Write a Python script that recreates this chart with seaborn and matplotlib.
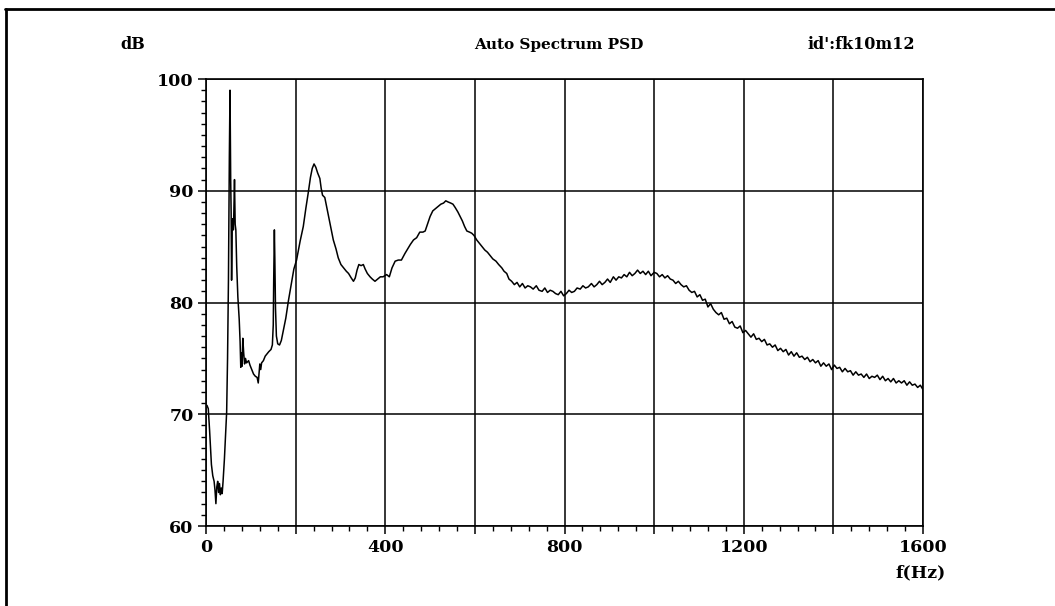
import matplotlib
matplotlib.use('Agg')
import matplotlib.pyplot as plt
from matplotlib.ticker import MultipleLocator, FuncFormatter
from matplotlib.lines import Line2D
import seaborn as sns

# frequency (Hz) and auto spectrum level (dB)
freq = [2, 5, 8, 12, 15, 18, 20, 22, 24, 26, 28, 30, 32, 34, 36, 38, 41, 44, 46, 48,
        50, 52, 53.5, 55, 56, 57, 58.5, 60, 61, 62, 63.5, 65, 66.5, 68.5, 71, 74, 76, 77.5, 79, 80.5,
        82, 84, 86, 88, 90.5, 95, 98, 102, 106, 110, 114, 116.5, 118, 120, 122, 124, 128, 132, 136, 140,
        145, 148, 150, 151, 152.5, 153.5, 155, 157, 160, 164, 168, 172, 178, 184, 190, 196, 202, 210, 217, 223,
        228, 233, 237, 241, 245, 249, 254, 257, 260, 265, 269, 274, 279, 284, 290, 295, 301, 307, 313, 318,
        324, 329, 333, 337, 341, 346, 351, 355, 360, 366, 371, 377, 383, 389, 395, 403, 409, 415, 422, 429,
        436, 444, 450, 456, 463, 470, 477, 484, 489, 494, 500, 506, 512, 518, 524, 530, 535, 540, 546, 551,
        556, 562, 567, 572, 577, 582, 588, 593, 598, 604, 610, 616, 622, 628, 634, 640, 647, 653, 660, 665,
        671, 676, 682, 688, 694, 700, 706, 712, 718, 724, 730, 737, 743, 750, 756, 762, 768, 774, 780, 786,
        792, 798, 804, 810, 816, 822, 828, 835, 841, 847, 853, 860, 866, 872, 878, 884, 890, 896, 902, 909,
        915, 921, 927, 933, 939, 945, 951, 957, 963, 969, 975, 981, 987, 993, 1000, 1006, 1012, 1018, 1024, 1030,
        1036, 1042, 1048, 1054, 1060, 1066, 1072, 1078, 1084, 1090, 1096, 1102, 1108, 1114, 1120, 1126, 1132, 1138, 1144, 1150,
        1156, 1162, 1168, 1174, 1180, 1186, 1192, 1198, 1204, 1210, 1216, 1222, 1228, 1234, 1240, 1246, 1252, 1258, 1264, 1270,
        1276, 1282, 1288, 1294, 1300, 1306, 1312, 1318, 1324, 1330, 1336, 1342, 1348, 1354, 1360, 1366, 1372, 1378, 1384, 1390,
        1396, 1402, 1408, 1414, 1420, 1426, 1432, 1438, 1444, 1450, 1456, 1462, 1468, 1474, 1480, 1486, 1492, 1498, 1504, 1510,
        1516, 1522, 1528, 1534, 1540, 1546, 1552, 1558, 1564, 1570, 1576, 1582, 1588, 1594, 1600]
db = [70.8, 70.5, 68.5, 65.5, 64.5, 64.0, 63.2, 62.0, 63.5, 64.0, 63.0, 63.8, 62.8, 63.4, 62.9, 64.0, 66.0, 68.5, 70.2, 75,
      82, 93, 99.0, 91, 88, 82, 87, 87.5, 86.5, 88, 91.0, 87, 86.5, 83.2, 80.5, 78.5, 76.5, 74.2, 75.5, 74.3,
      76.8, 75.5, 74.5, 75, 74.6, 74.8, 74.4, 74.0, 73.6, 73.4, 73.3, 72.8, 73.5, 74.5, 74.0, 74.6, 74.8, 75.2, 75.4, 75.6,
      75.8, 76.2, 78, 82, 86.5, 84, 79.5, 77, 76.3, 76.2, 76.6, 77.4, 78.6, 80.2, 81.6, 83, 83.8, 85.5, 86.8, 88.5,
      89.8, 91.2, 92.0, 92.4, 92.1, 91.6, 91.1, 90.2, 89.6, 89.4, 88.6, 87.6, 86.6, 85.6, 84.8, 84.0, 83.4, 83.1, 82.8, 82.6,
      82.2, 81.9, 82.2, 82.9, 83.4, 83.3, 83.4, 83.0, 82.6, 82.3, 82.1, 81.9, 82.1, 82.3, 82.3, 82.5, 82.3, 83.1, 83.7, 83.8,
      83.8, 84.4, 84.8, 85.2, 85.6, 85.8, 86.3, 86.3, 86.4, 87.0, 87.7, 88.2, 88.4, 88.6, 88.8, 88.9, 89.1, 89.0, 88.9, 88.8,
      88.5, 88.1, 87.7, 87.3, 86.8, 86.4, 86.3, 86.2, 86.0, 85.6, 85.3, 85.0, 84.7, 84.5, 84.2, 83.9, 83.7, 83.4, 83.1, 82.8,
      82.6, 82.1, 81.9, 81.6, 81.8, 81.4, 81.7, 81.3, 81.5, 81.4, 81.2, 81.5, 81.1, 81.0, 81.3, 80.9, 81.1, 81.0, 80.8, 80.7,
      81.0, 80.6, 80.8, 81.1, 80.9, 81.0, 81.3, 81.2, 81.5, 81.3, 81.4, 81.7, 81.4, 81.6, 81.9, 81.6, 81.8, 82.1, 81.8, 82.3,
      82.0, 82.3, 82.2, 82.5, 82.3, 82.7, 82.4, 82.6, 82.9, 82.6, 82.8, 82.5, 82.8, 82.4, 82.7, 82.6, 82.3, 82.5, 82.2, 82.4,
      82.1, 82.0, 81.7, 81.9, 81.6, 81.4, 81.5, 81.1, 80.9, 81.0, 80.5, 80.7, 80.2, 80.3, 79.6, 79.9, 79.4, 79.1, 78.9, 79.1,
      78.5, 78.6, 78.1, 78.3, 77.8, 77.7, 77.9, 77.3, 77.5, 77.2, 76.9, 77.2, 76.7, 76.8, 76.5, 76.7, 76.2, 76.3, 76.0, 76.2,
      75.7, 75.9, 75.6, 75.8, 75.3, 75.6, 75.2, 75.5, 75.1, 75.2, 74.9, 75.1, 74.7, 74.9, 74.6, 74.8, 74.3, 74.6, 74.3, 74.5,
      74.0, 74.4, 74.1, 74.2, 73.8, 74.1, 73.8, 73.9, 73.5, 73.8, 73.5, 73.6, 73.3, 73.6, 73.2, 73.4, 73.3, 73.5, 73.1, 73.4,
      73.0, 73.2, 72.9, 73.2, 72.8, 73.0, 72.8, 73.0, 72.6, 72.9, 72.6, 72.7, 72.4, 72.6, 72.2]

sns.set_style('white')
plt.rcParams['font.family'] = ['DejaVu Serif']
plt.rcParams['font.weight'] = 'bold'
plt.rcParams['text.color'] = 'black'

fig = plt.figure(figsize=(10.55, 6.06), dpi=100)
ax = fig.add_axes([0.1953, 0.132, 0.6796, 0.7376])

sns.lineplot(x=freq, y=db, ax=ax, color='black', lw=1.1)

ax.set_xlim(0, 1600)
ax.set_ylim(60, 100)
ax.xaxis.set_major_locator(MultipleLocator(200))
ax.xaxis.set_minor_locator(MultipleLocator(40))
ax.xaxis.set_major_formatter(FuncFormatter(lambda v, p: f'{v:.0f}' if v % 400 == 0 else ''))
ax.yaxis.set_major_locator(MultipleLocator(10))
ax.yaxis.set_minor_locator(MultipleLocator(1))
ax.grid(True, which='major', color='black', lw=1.1)
for s in ax.spines.values():
    s.set_color('black')
    s.set_linewidth(1.2)
ax.tick_params(which='major', direction='out', length=6, width=1.1, colors='black',
               labelsize=12.5, pad=3, bottom=True, left=True)
ax.tick_params(which='minor', direction='out', length=3.5, width=1.0, colors='black',
               bottom=True, left=True)
ax.set_xlabel('')
ax.set_ylabel('')

fig.text(0.126, 0.926, 'dB', ha='center', va='center', fontsize=11.5, fontweight='bold', color='black')
fig.text(0.530, 0.926, 'Auto Spectrum PSD', ha='center', va='center', fontsize=11,
         fontweight='bold', color='black')
fig.text(0.867, 0.926, "id':fk10m12", ha='right', va='center', fontsize=11.5, fontweight='bold', color='black')
fig.text(0.873, 0.054, 'f(Hz)', ha='center', va='center', fontsize=12.5, fontweight='bold', color='black')

# scanned page border (top and left edges only)
fig.add_artist(Line2D([0.005, 1.0], [0.985, 0.985], transform=fig.transFigure, color='black', lw=2))
fig.add_artist(Line2D([0.0055, 0.0055], [0.0, 0.985], transform=fig.transFigure, color='black', lw=2))

fig.savefig('out.png', dpi=100)
